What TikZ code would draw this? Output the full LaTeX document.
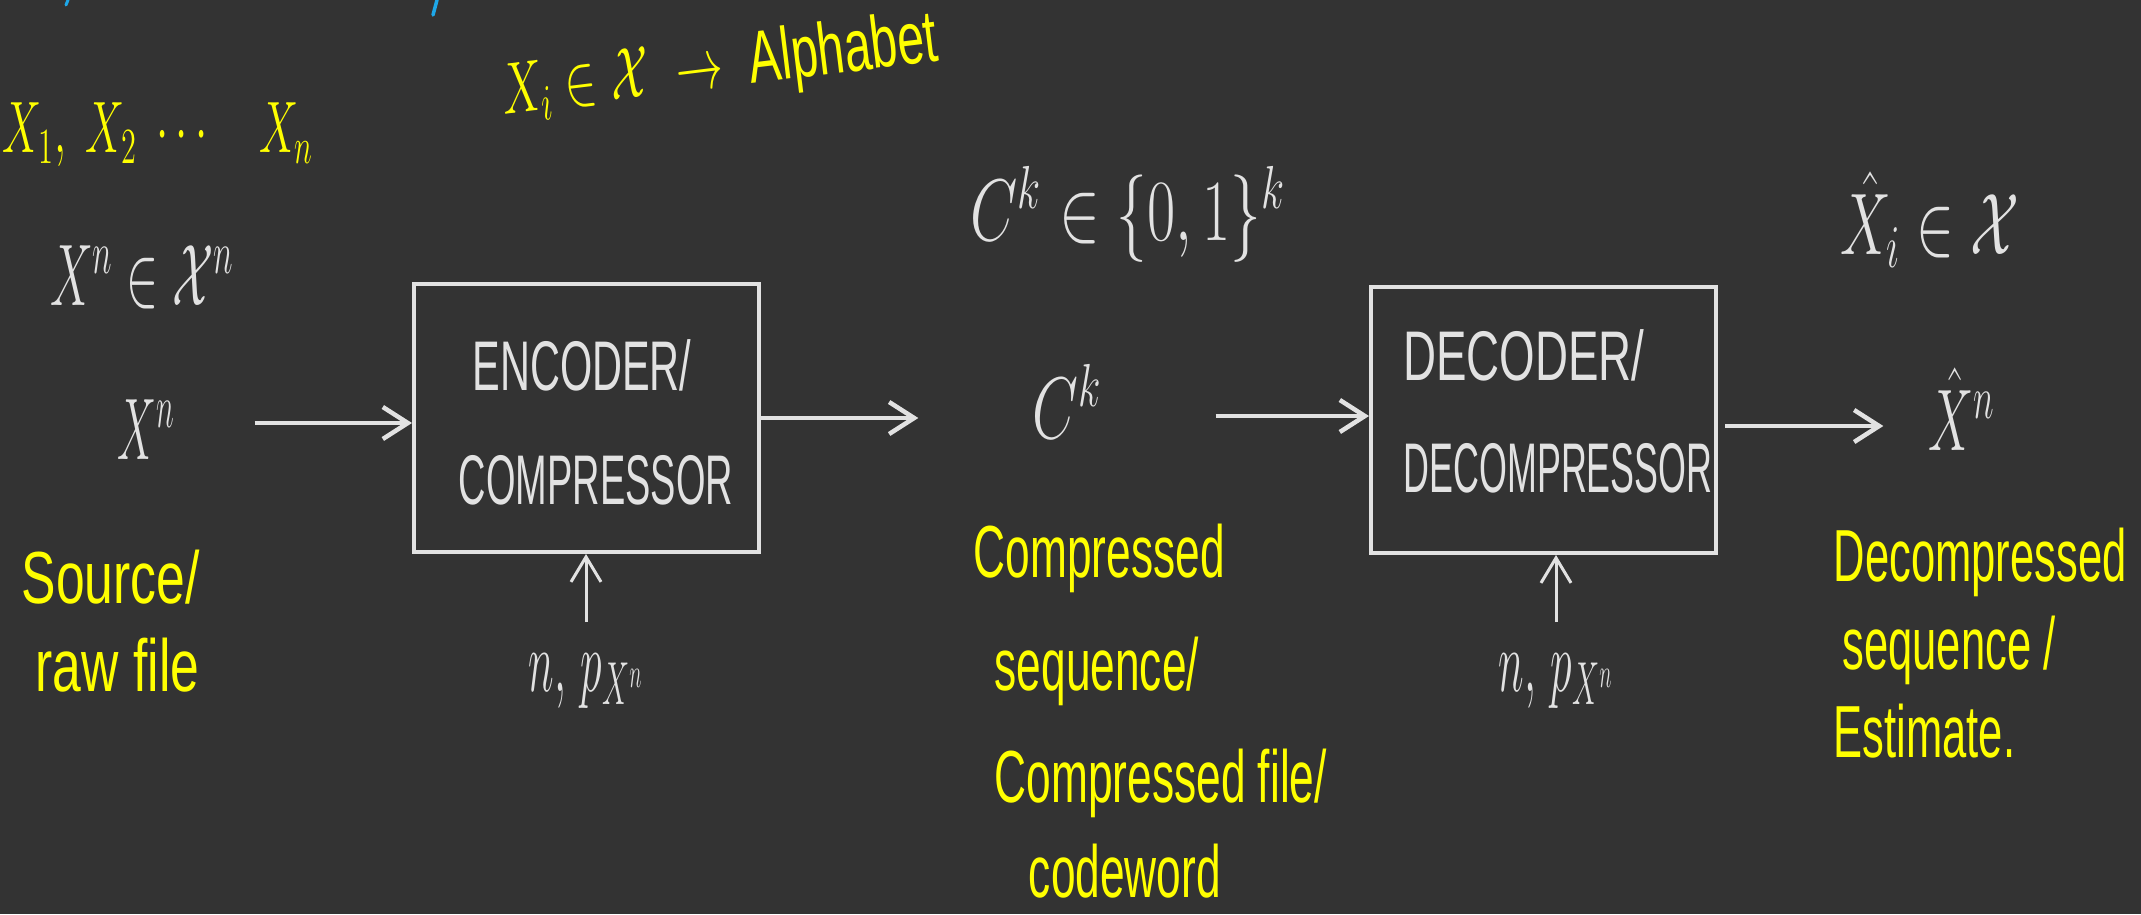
\documentclass[tikz,border=0pt]{standalone}
\usepackage{fontspec}
\setmainfont{Liberation Sans}
\usepackage{graphicx}
\usetikzlibrary{arrows.meta}

\definecolor{board}{HTML}{333333}
\definecolor{chalk}{HTML}{E2E2E2}
\definecolor{hilite}{HTML}{FFFF00}
\definecolor{inkblue}{HTML}{1EA7E8}

% narrow, hand-lettered proportions: squeeze a (multi-line) label horizontally
\newcommand{\hw}[2][0.6]{\scalebox{#1}[1]{\begin{tabular}{@{}l@{}}#2\end{tabular}}}

\begin{document}
\begin{tikzpicture}[x=0.1mm, y=-0.1mm,
  chalktext/.style={text=chalk, font=\fontsize{24}{28}\selectfont, inner sep=0pt},
  boxtext/.style={text=chalk, font=\fontsize{20}{24}\selectfont, inner sep=0pt},
  notetext/.style={text=hilite, font=\fontsize{21}{25}\selectfont, inner sep=0pt},
  blockbox/.style={draw=chalk, line width=0.4mm, minimum width=34.5mm, inner sep=0pt},
  flow/.style={draw=chalk, line width=0.45mm, -{Straight Barb[length=2.5mm,width=3.2mm]}},
  param/.style={draw=chalk, line width=0.3mm, -{Straight Barb[length=2.5mm,width=3mm]}},
]
\fill[board] (0,0) rectangle (2141,914);
\useasboundingbox (0,0) rectangle (2141,914);

% stray pen strokes along the top edge
\draw[inkblue, line width=0.3mm, line cap=round] (68,0) -- (66,5);
\draw[inkblue, line width=0.35mm, line cap=round] (437,0) -- (433,15);

% blocks
\node[blockbox, minimum height=26.8mm] (enc) at (586.5,418) {};
\node[blockbox, minimum height=26.6mm] (dec) at (1543.5,420) {};
\node[boxtext] (encA) at (582,374) {\hw[0.59]{ENCODER/}};
\node[boxtext] (encB) at (596,488) {\hw[0.54]{COMPRESSOR}};
\node[boxtext] (decA) at (1524,364) {\hw[0.65]{DECODER/}};
\node[boxtext] (decB) at (1558,476) {\hw[0.51]{DECOMPRESSOR}};

% signals along the chain
\node[chalktext, minimum width=21.6mm] (xn) at (146,440) {\hw[0.5]{$X^n$}};
\node[chalktext, minimum width=29.6mm] (ck) at (1067,416) {\hw[0.68]{$C^k$}};
\node[chalktext, minimum width=15.6mm] (xhat) at (1962,424) {\hw[0.58]{$\hat{X}^n$}};

% side parameters
\node[chalktext, minimum height=5mm] (pe) at (586,672) {\hw[0.5]{$n,\, p_{X^n}$}};
\node[chalktext, minimum height=5mm] (pd) at (1556,672) {\hw[0.5]{$n,\, p_{X^n}$}};

% set memberships
\node[chalktext] (xset) at (142,286) {\hw[0.55]{$X^n \in \mathcal{X}^n$}};
\node[chalktext] (cset) at (1128,218) {\hw[0.7]{$C^k \in \{0,1\}^k$}};
\node[chalktext] (xhset) at (1930,228) {\hw[0.65]{$\hat{X}_i \in \mathcal{X}$}};

% yellow notes
\node[notetext] (seq) at (158,135) {\hw[0.6]{$X_1,\ X_2 \;\cdots\quad X_n$}};
\node[notetext, rotate=7] (alpha) at (720,70) {\hw[0.65]{$X_i \in \mathcal{X} \;\rightarrow\;$ Alphabet}};
\node[notetext, anchor=west] (srcnote) at (21,630) {\hw[0.7]{Source/\\\hspace*{2mm}raw file}};
\node[notetext, anchor=west] (cnote) at (973,720) {\hw[0.6]{Compressed\\[7pt]\hspace*{3.5mm}sequence/\\[7pt]\hspace*{3.5mm}Compressed file/\\[2pt]\hspace*{9.2mm}codeword}};
\node[notetext, anchor=west] (dnote) at (1833,652) {\hw[0.59]{Decompressed\\\hspace*{1.5mm}sequence /\\Estimate.}};

% connectors
\draw[flow] ([yshift=1.7mm]xn.east) -- ([yshift=1.7mm]xn.east -| enc.west);
\draw[flow] (enc.east) -- (enc.east -| ck.west);
\draw[flow] (ck.east) -- (ck.east -| dec.west);
\draw[flow, shorten <=0.7mm] ([yshift=-0.6mm]dec.east) -- ([yshift=-0.6mm]dec.east -| xhat.west);
\draw[param] (pe.north) -- (pe.north |- enc.south);
\draw[param] (pd.north) -- (pd.north |- dec.south);
\end{tikzpicture}
\end{document}
